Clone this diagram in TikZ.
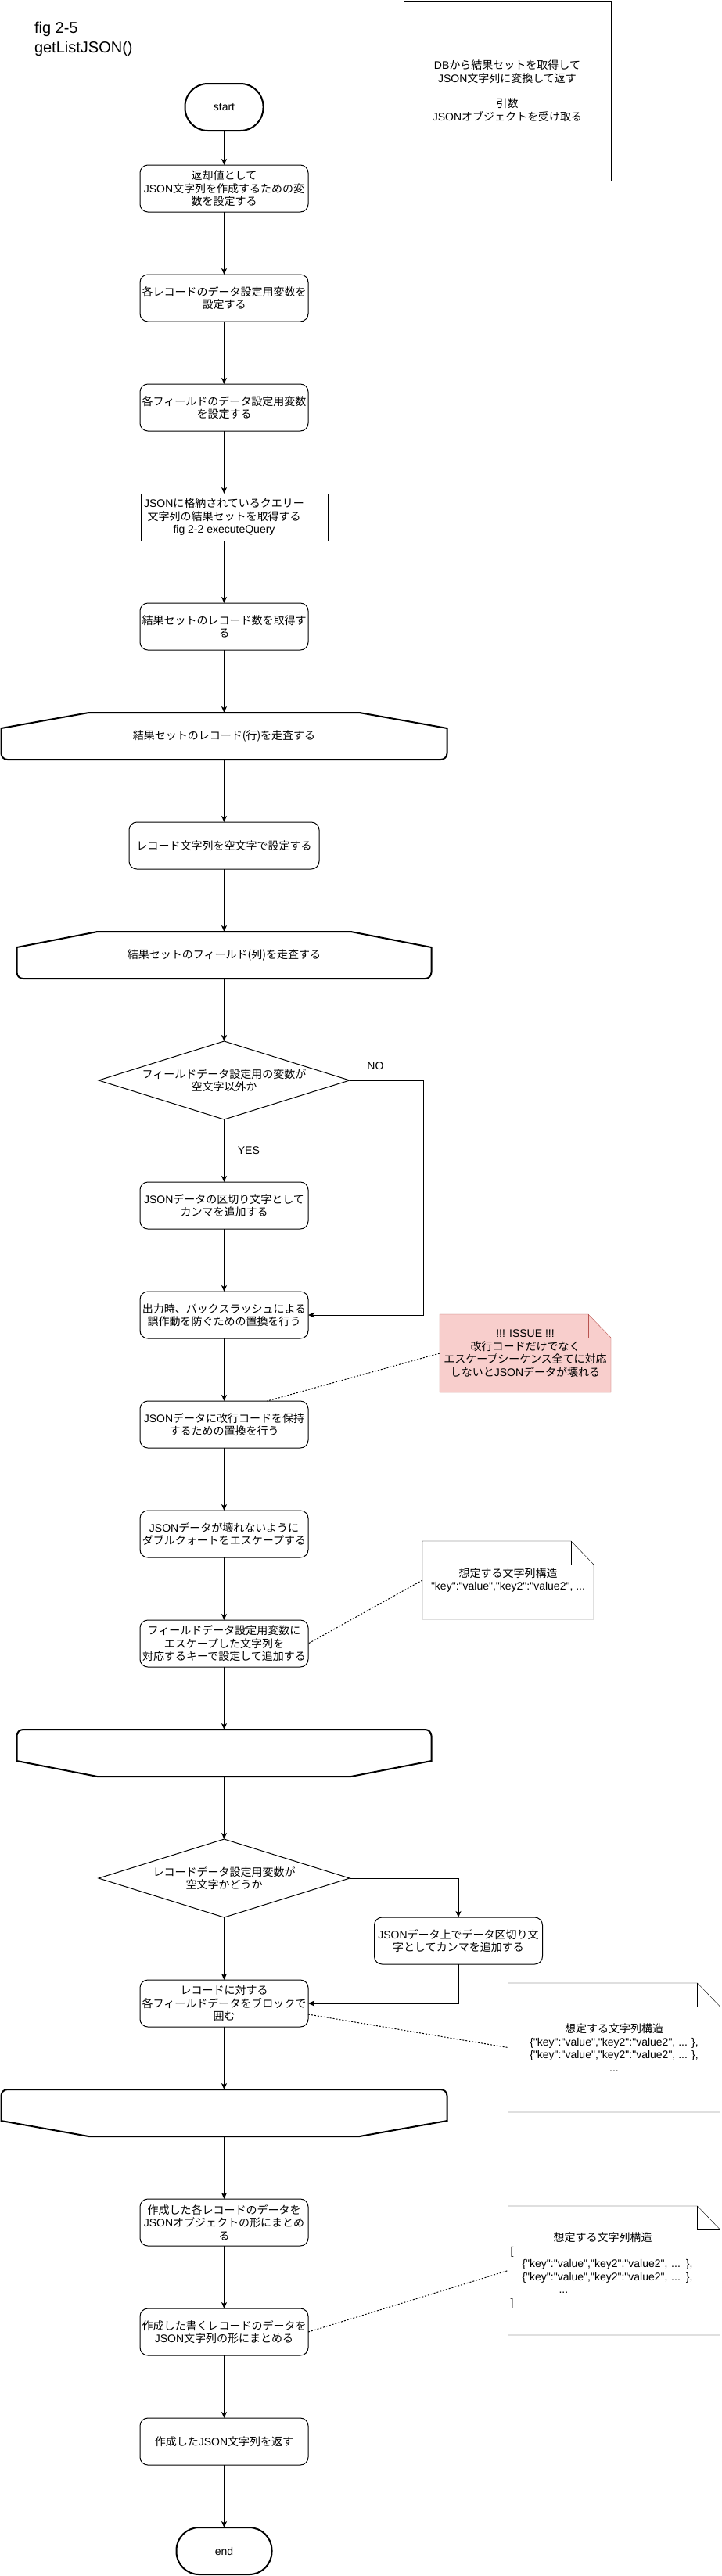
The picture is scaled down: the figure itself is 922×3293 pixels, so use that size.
\documentclass[tikz,border=0pt]{standalone}
\usepackage{fontspec}
\setmainfont{Noto Sans CJK JP}
\newfontfamily\latfont{Liberation Sans}
\newcommand{\lat}[1]{{\latfont #1}}
\usetikzlibrary{positioning,shapes.geometric,arrows.meta,backgrounds}

\definecolor{issuefill}{HTML}{F8CECC}
\definecolor{issueline}{HTML}{B85450}

\tikzset{
  every node/.style={outer sep=0pt},
  proc/.style={draw,rounded corners=10pt,minimum width=215pt,minimum height=60pt,inner sep=2pt,align=center},
  term/.style={draw,line width=2pt,rounded corners=29pt,minimum height=60pt,align=center,font=\latfont\fontsize{14pt}{16.5pt}\selectfont},
  subproc/.style={draw,minimum width=266pt,minimum height=60pt,inner sep=2pt,align=center},
  decide/.style={draw,diamond,aspect=3.21,minimum width=321pt,minimum height=100pt,inner sep=0pt,align=center},
  loopbox/.style={minimum height=60pt,inner sep=0pt,align=center},
  loopline/.style={line width=2pt},
  memo/.style={inner sep=0pt,align=center},
  memoline/.style={dash pattern=on 2pt off 2pt},
  tag/.style={font=\latfont\fontsize{14pt}{16.5pt}\selectfont}
}

% loop limit shapes drawn round a named node
\newcommand{\looptop}[2]{%
  \draw[loopline] (#1.west) -- ([yshift=-20pt]#1.north west) -- ([xshift=#2]#1.north west) -- ([xshift=-#2]#1.north east) -- ([yshift=-20pt]#1.north east) [rounded corners=8pt] -- (#1.south east) -- (#1.south west) -- (#1.west);
}
\newcommand{\loopbottom}[2]{%
  \draw[loopline] (#1.west) -- ([yshift=20pt]#1.south west) -- ([xshift=#2]#1.south west) -- ([xshift=-#2]#1.south east) -- ([yshift=20pt]#1.south east) [rounded corners=8pt] -- (#1.north east) -- (#1.north west) -- (#1.west);
}
% folded note outline
\newcommand{\notefold}[2][]{%
  \draw[#1] (#2.north west) -- ([xshift=-29pt]#2.north east) -- ([yshift=-30pt]#2.north east) -- (#2.south east) -- (#2.south west) -- cycle;
  \draw[#1,fill=none] ([xshift=-29pt]#2.north east) |- ([yshift=-30pt]#2.north east);
}

\begin{document}
\begin{tikzpicture}[x=1pt,y=-1pt,line width=1pt,>={Stealth[length=8pt,width=7pt,inset=2pt]},node distance=80pt,font=\fontsize{14pt}{16.5pt}\selectfont]
    \useasboundingbox (0,0) rectangle (922,3293);

    % title and description
    \node[anchor=west,align=left,inner sep=0pt,font=\latfont\fontsize{20pt}{25pt}\selectfont] (title) at (44,49.5) {fig 2-5\\getListJSON()};
    \node[draw,minimum width=265pt,minimum height=230pt,align=center] (info) at (648.5,116) {\lat{DB}から結果セットを取得して\\\lat{JSON}文字列に変換して返す\\[16pt]引数\\\lat{JSON}オブジェクトを受け取る};

    % main flow
    \node[term,minimum width=100pt] (start) at (286.5,137) {start};
    \node[proc,below=44pt of start] (init) {返却値として\\\lat{JSON}文字列を作成するための変\\数を設定する};
    \node[proc,below=of init] (recvar) {各レコードのデータ設定用変数を\\設定する};
    \node[proc,below=of recvar] (fldvar) {各フィールドのデータ設定用変数\\を設定する};
    \node[subproc,below=of fldvar] (query) {\lat{JSON}に格納されているクエリー\\文字列の結果セットを取得する\\\lat{fig 2-2 executeQuery}};
    \node[proc,below=of query] (count) {結果セットのレコード数を取得す\\る};
    \node[loopbox,minimum width=570pt,below=of count] (rowloop) {結果セットのレコード(行)を走査する};
    \node[proc,minimum width=243pt,below=of rowloop] (recclear) {レコード文字列を空文字で設定する};
    \node[loopbox,minimum width=530pt,below=of recclear] (colloop) {結果セットのフィールド(列)を走査する};
    \node[decide,below=of colloop] (fldchk) {フィールドデータ設定用の変数が\\空文字以外か};
    \node[proc,below=of fldchk] (fldcomma) {\lat{JSON}データの区切り文字として\\カンマを追加する};
    \node[proc,below=of fldcomma] (bslash) {出力時、バックスラッシュによる\\誤作動を防ぐための置換を行う};
    \node[proc,below=of bslash] (newline) {\lat{JSON}データに改行コードを保持\\するための置換を行う};
    \node[proc,below=of newline] (dquote) {\lat{JSON}データが壊れないように\\ダブルクォートをエスケープする};
    \node[proc,below=of dquote] (fldadd) {フィールドデータ設定用変数に\\エスケープした文字列を\\対応するキーで設定して追加する};
    \node[loopbox,minimum width=530pt,below=of fldadd] (colend) {};
    \node[decide,below=of colend] (recchk) {レコードデータ設定用変数が\\空文字かどうか};
    \node[proc,below=of recchk] (recblock) {レコードに対する\\各フィールドデータをブロックで\\囲む};
    \node[proc] (reccomma) at (586,2481) {\lat{JSON}データ上でデータ区切り文\\字としてカンマを追加する};
    \node[loopbox,minimum width=570pt,below=of recblock] (rowend) {};
    \node[proc,below=of rowend] (toobj) {作成した各レコードのデータを\\\lat{JSON}オブジェクトの形にまとめ\\る};
    \node[proc,below=of toobj] (tostr) {作成した書くレコードのデータを\\\lat{JSON}文字列の形にまとめる};
    \node[proc,below=of tostr] (ret) {作成した\lat{JSON}文字列を返す};
    \node[term,minimum width=122pt,below=of ret] (end) {end};

    % notes
    \node[memo,minimum width=219pt,minimum height=100pt] (issue) at (671.5,1730) {\lat{!!! ISSUE !!!}\\改行コードだけでなく\\エスケープシーケンス全てに対応\\しないと\lat{JSON}データが壊れる};
    \node[memo,minimum width=219pt,minimum height=100pt] (fldnote) at (649.5,2020) {想定する文字列構造\\\lat{"key":"value","key2":"value2", ...}};
    \node[memo,minimum width=271pt,minimum height=165pt] (recnote) at (785,2617.5) {想定する文字列構造\\\lat{\{"key":"value","key2":"value2", ... \},}\\\lat{\{"key":"value","key2":"value2", ... \},}\\\lat{...}};
    \node[memo,minimum width=271pt,minimum height=165pt,text width=265pt,inner xsep=3pt,align=left] (arrnote) at (785,2902.5) {\makebox[236pt]{想定する文字列構造}\\\lat{[}\\\lat{\hspace*{15pt}\{"key":"value","key2":"value2", ... \},}\\\lat{\hspace*{15pt}\{"key":"value","key2":"value2", ... \},}\\\lat{\hspace*{62pt}...}\\\lat{]}};

    % shapes
    \looptop{rowloop}{112pt}
    \looptop{colloop}{103pt}
    \loopbottom{colend}{103pt}
    \loopbottom{rowend}{112pt}
    \draw (query.north west) ++(27pt,0) -- ([xshift=27pt]query.south west);
    \draw (query.north east) ++(-27pt,0) -- ([xshift=-27pt]query.south east);
    \begin{scope}[on background layer]
        \notefold[draw=issueline,fill=issuefill]{issue}
        \notefold{fldnote}
        \notefold{recnote}
        \notefold{arrnote}
    \end{scope}

    % connectors
    \draw[->] (start) -- (init);
    \draw[->] (init) -- (recvar);
    \draw[->] (recvar) -- (fldvar);
    \draw[->] (fldvar) -- (query);
    \draw[->] (query) -- (count);
    \draw[->] (count) -- (rowloop);
    \draw[->] (rowloop) -- (recclear);
    \draw[->] (recclear) -- (colloop);
    \draw[->] (colloop) -- (fldchk);
    \draw[->] (fldchk) -- node[tag,right=14pt] {YES} (fldcomma);
    \draw[->] (fldchk.east) -- node[tag,above=10pt,pos=0.35] {NO} ++(94pt,0) |- (bslash.east);
    \draw[->] (fldcomma) -- (bslash);
    \draw[->] (bslash) -- (newline);
    \draw[->] (newline) -- (dquote);
    \draw[->] (dquote) -- (fldadd);
    \draw[->] (fldadd) -- (colend);
    \draw[->] (colend) -- (recchk);
    \draw[->] (recchk) -- (recblock);
    \draw[->] (recchk.east) -| (reccomma.north);
    \draw[->] (reccomma.south) |- (recblock.east);
    \draw[->] (recblock) -- (rowend);
    \draw[->] (rowend) -- (toobj);
    \draw[->] (toobj) -- (tostr);
    \draw[->] (tostr) -- (ret);
    \draw[->] (ret) -- (end);

    % note links
    \draw[memoline] (issue.west) -- ([xshift=55pt]newline.north);
    \draw[memoline] (fldnote.west) -- (fldadd.east);
    \draw[memoline] ([yshift=-14pt]recblock.east) -- (recnote.west);
    \draw[memoline] (tostr.east) -- (arrnote.west);
\end{tikzpicture}
\end{document}
